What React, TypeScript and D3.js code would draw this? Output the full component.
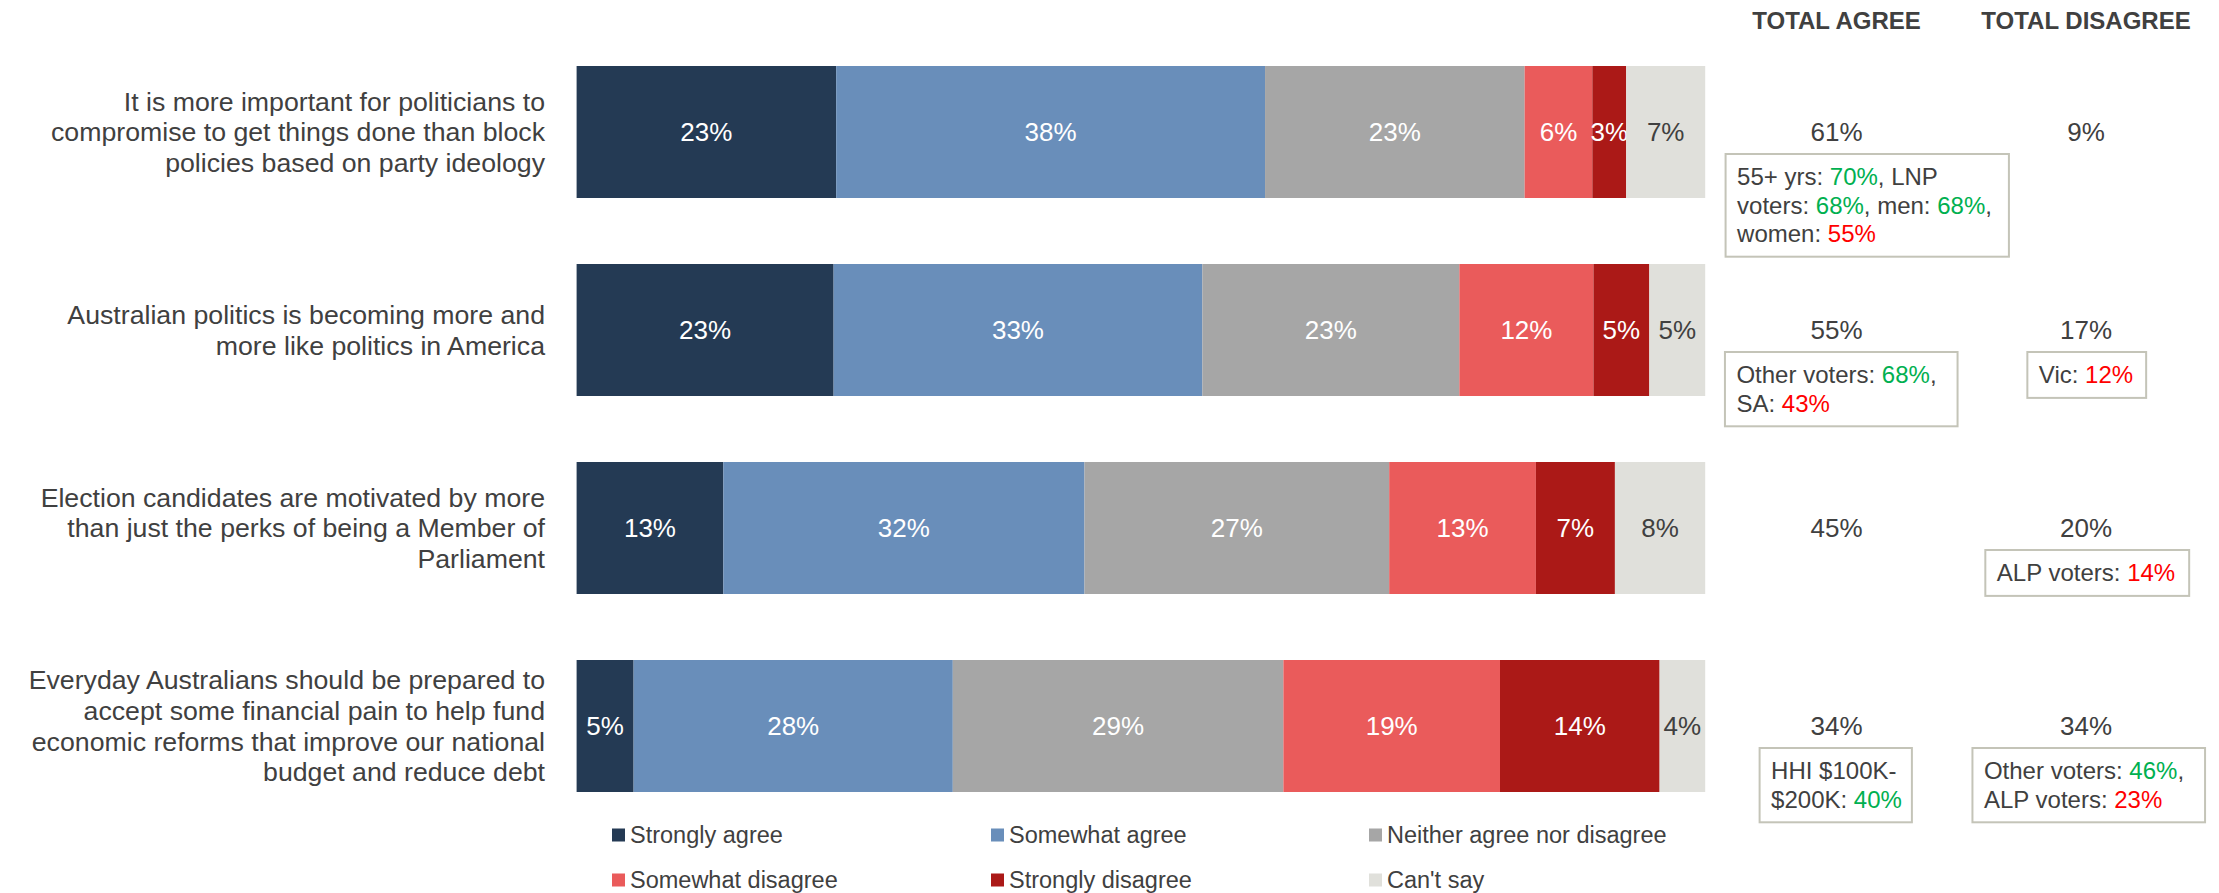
import React, { useEffect, useRef } from "react";
import * as d3 from "d3";

const categories: string[][] = [
  ["It is more important for politicians to", "compromise to get things done than block", "policies based on party ideology"],
  ["Australian politics is becoming more and", "more like politics in America"],
  ["Election candidates are motivated by more", "than just the perks of being a Member of", "Parliament"],
  ["Everyday Australians should be prepared to", "accept some financial pain to help fund", "economic reforms that improve our national", "budget and reduce debt"],
];

const seriesNames = ["Strongly agree", "Somewhat agree", "Neither agree nor disagree", "Somewhat disagree", "Strongly disagree", "Can't say"];
const seriesColors = ["#243A54", "#698EBA", "#A6A6A6", "#EA5B5B", "#AB1917", "#E0E0DB"];
const labelColors = ["#FFFFFF", "#FFFFFF", "#FFFFFF", "#FFFFFF", "#FFFFFF", "#404040"];

const stronglyAgree = [23, 23, 13, 5];
const somewhatAgree = [38, 33, 32, 28];
const neither = [23, 23, 27, 29];
const somewhatDisagree = [6, 12, 13, 19];
const stronglyDisagree = [3, 5, 7, 14];
const cantSay = [7, 5, 8, 4];

const totalAgree = [61, 55, 45, 34];
const totalDisagree = [9, 17, 20, 34];
const headers = ["TOTAL AGREE", "TOTAL DISAGREE"];

type Part = { t: string; c: "n" | "g" | "r" };
type Callout = { row: number; col: 0 | 1; dx: number; padR: number; lines: Part[][] };

const callouts: Callout[] = [
  {
    row: 0, col: 0, dx: 28, padR: 17,
    lines: [
      [{ t: "55+ yrs: ", c: "n" }, { t: "70%", c: "g" }, { t: ", LNP", c: "n" }],
      [{ t: "voters: ", c: "n" }, { t: "68%", c: "g" }, { t: ", men: ", c: "n" }, { t: "68%", c: "g" }, { t: ",", c: "n" }],
      [{ t: "women: ", c: "n" }, { t: "55%", c: "r" }],
    ],
  },
  {
    row: 1, col: 0, dx: 0, padR: 21,
    lines: [
      [{ t: "Other voters: ", c: "n" }, { t: "68%", c: "g" }, { t: ",", c: "n" }],
      [{ t: "SA: ", c: "n" }, { t: "43%", c: "r" }],
    ],
  },
  { row: 1, col: 1, dx: 0, padR: 13, lines: [[{ t: "Vic: ", c: "n" }, { t: "12%", c: "r" }]] },
  { row: 2, col: 1, dx: 0, padR: 14, lines: [[{ t: "ALP voters: ", c: "n" }, { t: "14%", c: "r" }]] },
  {
    row: 3, col: 0, dx: 0, padR: 10,
    lines: [
      [{ t: "HHI $100K-", c: "n" }],
      [{ t: "$200K: ", c: "n" }, { t: "40%", c: "g" }],
    ],
  },
  {
    row: 3, col: 1, dx: -2, padR: 21,
    lines: [
      [{ t: "Other voters: ", c: "n" }, { t: "46%", c: "g" }, { t: ",", c: "n" }],
      [{ t: "ALP voters: ", c: "n" }, { t: "23%", c: "r" }],
    ],
  },
];

const W = 2219;
const H = 893;
const FONT = "'Liberation Sans', Arial, Helvetica, sans-serif";
const TEXT = "#404040";
const partColor = { n: TEXT, g: "#00B050", r: "#FF0000" };

export default function App() {
  const ref = useRef<SVGSVGElement | null>(null);

  useEffect(() => {
    document.body.style.margin = "0";
    const svg = d3.select(ref.current);
    svg.selectAll("*").remove();

    const rows = categories.map((_, i) => ({
      idx: i,
      [seriesNames[0]]: stronglyAgree[i],
      [seriesNames[1]]: somewhatAgree[i],
      [seriesNames[2]]: neither[i],
      [seriesNames[3]]: somewhatDisagree[i],
      [seriesNames[4]]: stronglyDisagree[i],
      [seriesNames[5]]: cantSay[i],
    }));

    const stack = d3.stack<any>().keys(seriesNames).offset(d3.stackOffsetExpand);
    const stacked = stack(rows);

    const x = d3.scaleLinear().domain([0, 1]).range([576.6, 1705.2]);
    const y = d3
      .scaleBand<number>()
      .domain(categories.map((_, i) => i))
      .range([33, 825])
      .paddingInner(1 / 3)
      .paddingOuter(1 / 6);
    const colX = [1836.5, 2086];
    const color = d3.scaleOrdinal<string, string>().domain(seriesNames).range(seriesColors);

    const g = svg.append("g").attr("font-family", FONT);

    // bars
    stacked.forEach((layer, si) => {
      const lg = g.append("g");
      lg.selectAll("rect")
        .data(layer)
        .join("rect")
        .attr("x", (d) => x(d[0]))
        .attr("y", (d, i) => y(i)!)
        .attr("width", (d) => x(d[1]) - x(d[0]))
        .attr("height", y.bandwidth())
        .attr("fill", color(layer.key));
      lg.selectAll("text")
        .data(layer)
        .join("text")
        .attr("x", (d) => (x(d[0]) + x(d[1])) / 2)
        .attr("y", (d, i) => y(i)! + y.bandwidth() / 2)
        .attr("dy", "0.35em")
        .attr("text-anchor", "middle")
        .attr("font-size", 26)
        .attr("fill", labelColors[si])
        .text((d) => `${d.data[layer.key]}%`);
    });

    // category labels
    const lineH = 30.6;
    categories.forEach((lines, i) => {
      const cy = y(i)! + y.bandwidth() / 2;
      const t = g
        .append("text")
        .attr("text-anchor", "end")
        .attr("font-size", 26.7)
        .attr("fill", TEXT);
      lines.forEach((ln, li) => {
        t.append("tspan")
          .attr("x", 545)
          .attr("y", cy + (li - (lines.length - 1) / 2) * lineH)
          .attr("dy", "0.35em")
          .text(ln);
      });
    });

    // headers
    headers.forEach((h, i) => {
      g.append("text")
        .attr("x", colX[i])
        .attr("y", 21)
        .attr("dy", "0.35em")
        .attr("text-anchor", "middle")
        .attr("font-size", 24)
        .attr("font-weight", "bold")
        .attr("fill", TEXT)
        .text(h);
    });

    // totals
    [totalAgree, totalDisagree].forEach((arr, ci) => {
      arr.forEach((v, i) => {
        g.append("text")
          .attr("x", colX[ci])
          .attr("y", y(i)! + y.bandwidth() / 2)
          .attr("dy", "0.35em")
          .attr("text-anchor", "middle")
          .attr("font-size", 26)
          .attr("fill", TEXT)
          .text(`${v}%`);
      });
    });

    // callouts
    const cLine = 28.4;
    callouts.forEach((c) => {
      const cy = y(c.row)! + y.bandwidth() / 2;
      const top = cy + 22;
      const boxG = g.append("g");
      const rect = boxG.append("rect");
      const texts = c.lines.map((parts, li) => {
        const t = boxG
          .append("text")
          .attr("font-size", 24)
          .attr("y", top + 23 + li * cLine)
          .attr("dy", "0.35em");
        parts.forEach((p) => {
          t.append("tspan").attr("fill", partColor[p.c]).text(p.t);
        });
        return t;
      });
      const maxW = d3.max(texts, (t) => (t.node() as SVGTextElement).getComputedTextLength()) || 0;
      const left = colX[c.col] - maxW / 2 + c.dx;
      texts.forEach((t) => t.attr("x", left));
      rect
        .attr("x", left - 11.5)
        .attr("y", top)
        .attr("width", maxW + 11.5 + c.padR)
        .attr("height", c.lines.length * cLine + 17.5)
        .attr("fill", "#FFFFFF")
        .attr("stroke", "#C4C4B8")
        .attr("stroke-width", 2);
    });

    // legend
    const legX = [612, 991, 1369];
    const legY = [835, 880];
    seriesNames.forEach((name, i) => {
      const lx = legX[i % 3];
      const ly = legY[Math.floor(i / 3)];
      g.append("rect")
        .attr("x", lx)
        .attr("y", ly - 6.5)
        .attr("width", 13)
        .attr("height", 13)
        .attr("fill", color(name));
      g.append("text")
        .attr("x", lx + 18)
        .attr("y", ly)
        .attr("dy", "0.35em")
        .attr("font-size", 23.5)
        .attr("fill", TEXT)
        .text(name);
    });
  }, []);

  return (
    <svg
      ref={ref}
      width={W}
      height={H}
      style={{ position: "absolute", left: 0, top: 0, background: "#FFFFFF" }}
    />
  );
}
